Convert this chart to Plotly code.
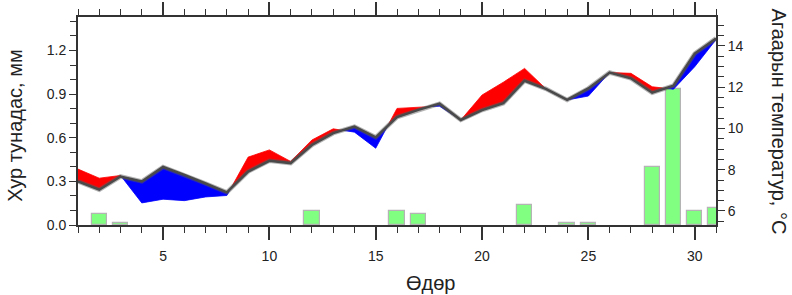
import numpy as np
import plotly.graph_objects as go

days = list(range(1, 32))
# Precipitation, mm (left axis)
precip_days = [2, 3, 12, 16, 17, 22, 24, 25, 28, 29, 30, 31]
precip_vals = [0.075, 0.013, 0.096, 0.096, 0.075, 0.135, 0.013, 0.013, 0.396, 0.935, 0.096, 0.117]
# Climatological (normal) air temperature, °C (right axis)
temp_norm = [7.43, 7.03, 7.67, 7.43, 8.13, 7.75, 7.33, 6.90, 7.91, 8.43, 8.32, 9.20,
             9.77, 10.09, 9.57, 10.55, 10.90, 11.20, 10.41, 10.89, 11.22, 12.31,
             11.92, 11.38, 11.94, 12.71, 12.43, 11.73, 12.07, 13.63, 14.36]
# Observed air temperature, °C (right axis)
temp_obs = [8.03, 7.59, 7.72, 6.39, 6.57, 6.50, 6.68, 6.75, 8.61, 8.96, 8.40, 9.44,
            9.98, 9.82, 9.04, 10.97, 11.03, 11.08, 10.41, 11.62, 12.24, 12.91,
            11.90, 11.38, 11.57, 12.71, 12.67, 12.02, 11.90, 12.99, 14.30]

# Build augmented x with crossing points so fills split exactly
xs, gn, ob = [], [], []
for i in range(len(days)):
    xs.append(days[i]); gn.append(temp_norm[i]); ob.append(temp_obs[i])
    if i < len(days) - 1:
        d0 = temp_obs[i] - temp_norm[i]
        d1 = temp_obs[i + 1] - temp_norm[i + 1]
        if d0 * d1 < 0:
            t = d0 / (d0 - d1)
            xs.append(days[i] + t)
            g = temp_norm[i] + t * (temp_norm[i + 1] - temp_norm[i])
            gn.append(g); ob.append(g)
gn = np.array(gn); ob = np.array(ob)
upper = np.maximum(gn, ob)
lower = np.minimum(gn, ob)

fig = go.Figure()
fig.add_trace(go.Bar(x=precip_days, y=precip_vals, width=0.72,
                     marker=dict(color="#80ff80", line=dict(color="#b4b4b4", width=1.2)),
                     yaxis="y", showlegend=False))
fig.add_trace(go.Scatter(x=xs, y=gn, mode="lines", line=dict(width=0, color="rgba(0,0,0,0)"),
                         yaxis="y2", showlegend=False, hoverinfo="skip"))
fig.add_trace(go.Scatter(x=xs, y=upper, mode="lines", line=dict(width=0.8, color="#ff0000"),
                         fill="tonexty", fillcolor="#ff0000", yaxis="y2", showlegend=False))
fig.add_trace(go.Scatter(x=xs, y=gn, mode="lines", line=dict(width=0, color="rgba(0,0,0,0)"),
                         yaxis="y2", showlegend=False, hoverinfo="skip"))
fig.add_trace(go.Scatter(x=xs, y=lower, mode="lines", line=dict(width=0.8, color="#0000ff"),
                         fill="tonexty", fillcolor="#0000ff", yaxis="y2", showlegend=False))
fig.add_trace(go.Scatter(x=days, y=temp_norm, mode="lines", line=dict(width=4.5, color="rgba(90,90,90,0.45)"),
                         yaxis="y2", showlegend=False, hoverinfo="skip"))
fig.add_trace(go.Scatter(x=days, y=temp_norm, mode="lines", line=dict(width=2.5, color="#4a4a4a"),
                         yaxis="y2", showlegend=False))
# invisible carriers for the minor-tick axes
fig.add_trace(go.Scatter(x=[days[0]], y=[precip_vals[0]], mode="markers", marker=dict(opacity=0),
                         yaxis="y3", showlegend=False, hoverinfo="skip"))
fig.add_trace(go.Scatter(x=[days[0]], y=[temp_norm[0]], mode="markers", marker=dict(opacity=0),
                         yaxis="y4", showlegend=False, hoverinfo="skip"))

axcol = "#333333"
fam = "Liberation Sans, Arial, sans-serif"
tickfont = dict(family=fam, size=14, color="#222222")
fig.update_layout(
    width=792, height=295,
    margin=dict(l=78, r=76, t=17, b=70, autoexpand=False),
    paper_bgcolor="white", plot_bgcolor="white",
    bargap=0,
    xaxis=dict(range=[1, 31], tick0=5, dtick=5, ticks="outside", ticklen=13, tickwidth=1.5,
               tickcolor=axcol, showline=True, linecolor=axcol, linewidth=1.8, mirror="ticks",
               showgrid=False, zeroline=False, tickfont=tickfont, automargin=False,
               ticklabelstandoff=4,
               minor=dict(dtick=1, tick0=1, ticks="outside", ticklen=6, tickwidth=1, tickcolor=axcol)),
    yaxis=dict(range=[0, 1.43], tick0=0, dtick=0.3, tickformat=".1f", ticks="outside", ticklen=7,
               tickwidth=1.2, tickcolor=axcol, showline=True, linecolor=axcol, linewidth=1.8,
               showgrid=False, zeroline=False, tickfont=tickfont, automargin=False),
    yaxis3=dict(range=[0, 1.43], overlaying="y", side="left", anchor="x", tick0=0, dtick=0.1,
                ticks="outside", ticklen=7, tickwidth=1, tickcolor=axcol, showline=False,
                showticklabels=False, showgrid=False, zeroline=False, automargin=False),
    yaxis2=dict(range=[5.32, 15.4], overlaying="y", side="right", anchor="x", tick0=6, dtick=2,
                ticks="outside", ticklen=7, tickwidth=1.2, tickcolor=axcol, showline=True,
                linecolor=axcol, linewidth=1.8, showgrid=False, zeroline=False, tickfont=tickfont,
                automargin=False),
    yaxis4=dict(range=[5.32, 15.4], overlaying="y", side="right", anchor="x", tick0=6, dtick=0.5,
                ticks="outside", ticklen=7, tickwidth=1, tickcolor=axcol, showline=False,
                showticklabels=False, showgrid=False, zeroline=False, automargin=False),
    annotations=[
        dict(text="Хур тунадас, мм", xref="paper", yref="paper", x=-0.098, y=0.48, textangle=-90,
             showarrow=False, font=dict(family=fam, size=20, color="#222222"),
             xanchor="center", yanchor="middle"),
        dict(text="Агаарын температур, °С", xref="paper", yref="paper", x=1.098, y=0.5, textangle=90,
             showarrow=False, font=dict(family=fam, size=20, color="#222222"),
             xanchor="center", yanchor="middle"),
        dict(text="Өдөр", xref="paper", yref="paper", x=0.552, y=-0.279, showarrow=False,
             font=dict(family=fam, size=20, color="#222222"),
             xanchor="center", yanchor="middle"),
    ],
)
fig.write_html("out.html")
